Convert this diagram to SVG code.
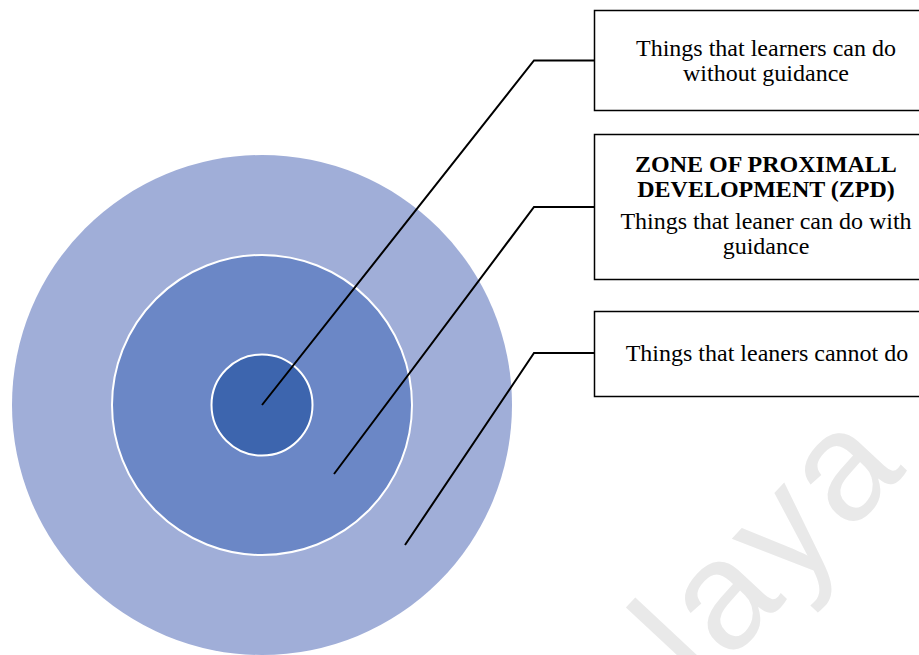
<svg xmlns="http://www.w3.org/2000/svg" width="919" height="655" viewBox="0 0 919 655">
<style>
.box{fill:#fff;stroke:#000;stroke-width:1.5}
.t{font-family:"Liberation Serif","Times New Roman",serif;font-size:24px;fill:#000;text-anchor:middle}
.b{font-weight:bold}
.conn{fill:none;stroke:#000;stroke-width:2}
.wm{font-family:"Liberation Sans",Arial,sans-serif;font-size:155px;letter-spacing:6px;fill:#e9e9e9}
</style>
<rect width="919" height="655" fill="#fff"/>
<g id="watermark"><text class="wm" transform="translate(546,858) rotate(-47)">Malaya</text></g>
<g id="circle-outer"><circle cx="262" cy="405" r="250" fill="#a0aed8"/></g>
<g id="circle-middle"><circle cx="262" cy="405" r="150" fill="#6b87c6" stroke="#fff" stroke-width="2"/></g>
<g id="circle-inner"><circle cx="262" cy="405" r="50.5" fill="#3d65ae" stroke="#fff" stroke-width="2"/></g>
<g id="connectors">
<polyline class="conn" points="262,405 534,60.5 594,60.5"/>
<polyline class="conn" points="334,474 534,207 594,207"/>
<polyline class="conn" points="405,545 534,353 594,353"/>
</g>
<g id="box1">
<rect class="box" x="594.5" y="10.5" width="330" height="100"/>
<text class="t" x="766" y="56">Things that learners can do</text>
<text class="t" x="766" y="81">without guidance</text>
</g>
<g id="box2">
<rect class="box" x="594.5" y="134.5" width="330" height="145"/>
<text class="t b" x="766" y="172">ZONE OF PROXIMALL</text>
<text class="t b" x="766" y="197">DEVELOPMENT (ZPD)</text>
<text class="t" x="766" y="229">Things that leaner can do with</text>
<text class="t" x="766" y="254">guidance</text>
</g>
<g id="box3">
<rect class="box" x="594.5" y="311.5" width="330" height="85"/>
<text class="t" x="767" y="361">Things that leaners cannot do</text>
</g>
</svg>
